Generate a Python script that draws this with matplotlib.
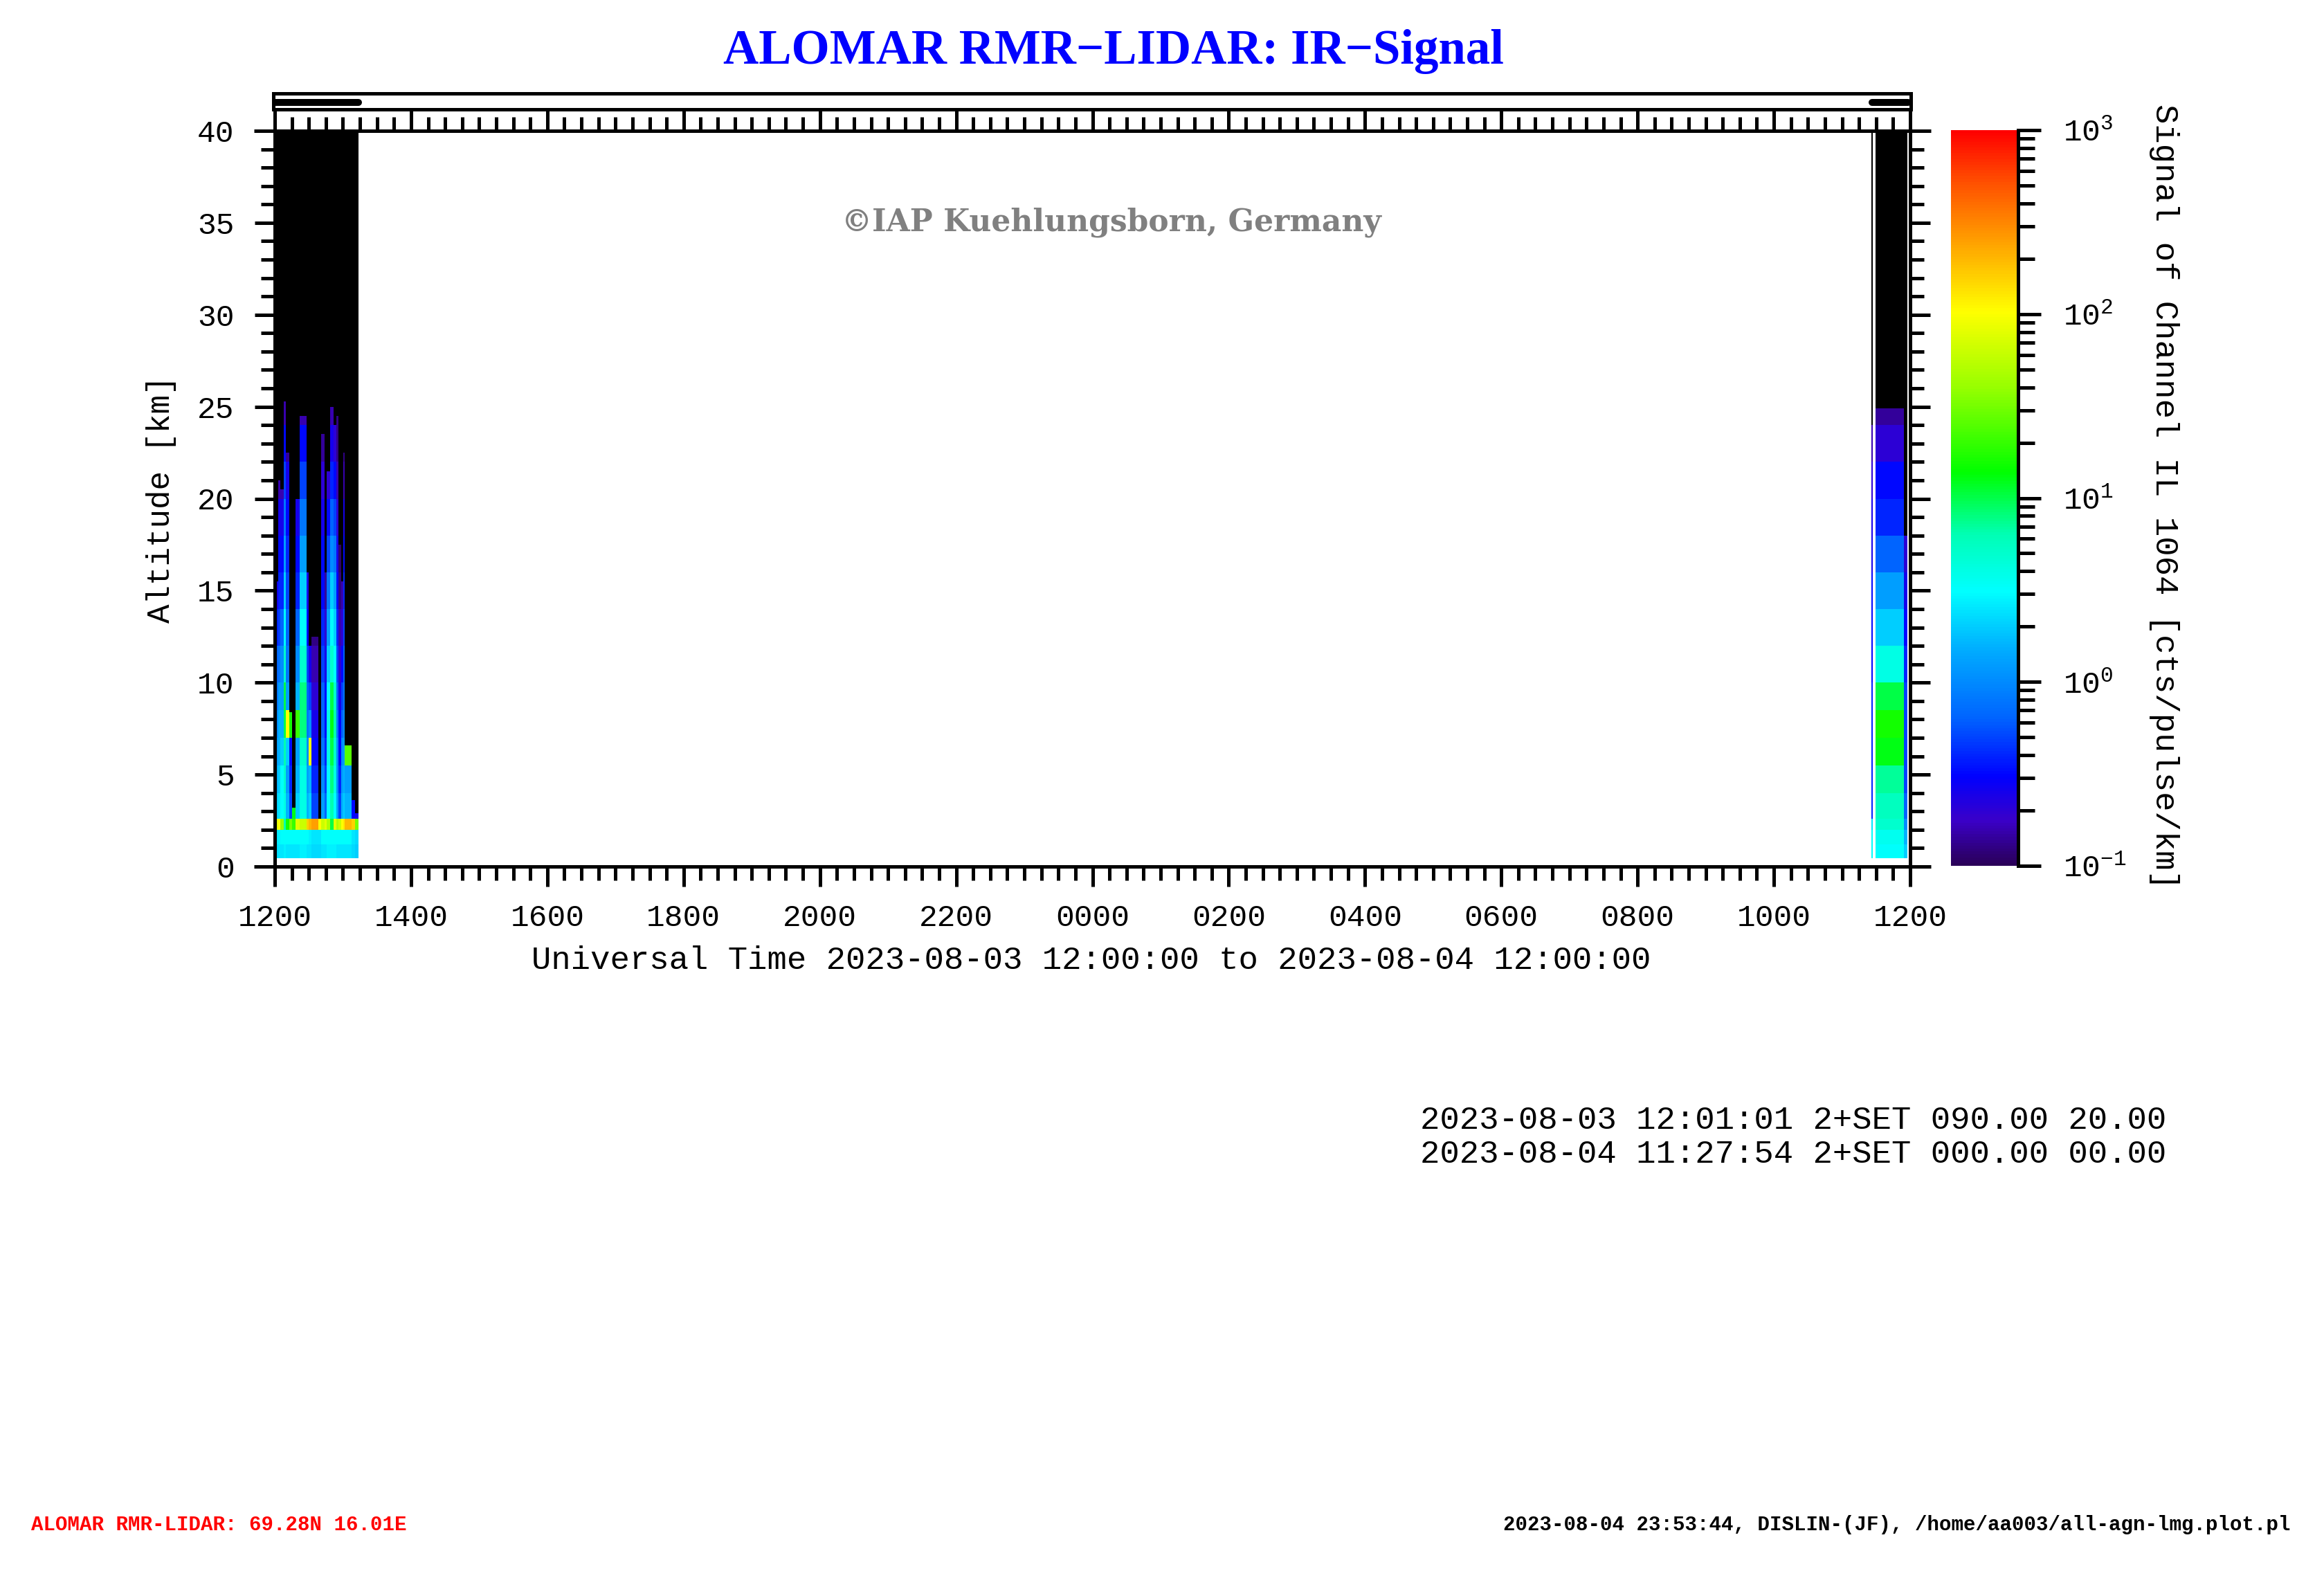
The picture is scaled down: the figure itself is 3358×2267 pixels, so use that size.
import matplotlib
matplotlib.use('Agg')
import matplotlib.pyplot as plt
import numpy as np
from matplotlib.colors import LinearSegmentedColormap, LogNorm
from matplotlib.cm import ScalarMappable

W, H = 3358, 2267
MONO = 'Liberation Mono'
plt.rcParams['mathtext.default'] = 'regular'

# ---- data ----
# altitude band lower edges [km]; a profile is cut at its own top altitude
alt_edges = [0.45, 1.2, 2.0, 2.6, 4.0, 5.5, 7.0, 8.5, 10.0, 12.0, 14.0, 16.0, 18.0, 20.0, 22.0, 24.0]

# profile columns, minutes after 2023-08-03 12:00 UT
col_start = [0.8, 3.0, 5.0, 8.0, 10.0, 12.5, 15.5, 18.0, 22.0, 28.0, 30.0, 32.3, 38.4,
             41.0, 44.0, 45.7, 48.5, 51.6, 54.2, 56.2, 58.3, 60.3, 61.7, 67.4, 70.5,
             1406.0, 1409.5, 1434.4]
col_end = [3.0, 5.0, 8.0, 10.0, 12.5, 15.5, 18.0, 22.0, 28.0, 30.0, 32.3, 38.4, 41.0,
           44.0, 45.7, 48.5, 51.6, 54.2, 56.2, 58.3, 60.3, 61.7, 67.4, 70.5, 73.5,
           1406.8, 1434.4, 1437.5]
# altitude [km] above which the signal drops below 0.1 cts/pulse/km
col_top = [15.5, 21.0, 20.5, 25.3, 22.5, 8.4, 3.2, 20.0, 24.5, 16.0, 12.0, 12.5, 2.6,
           23.5, 16.0, 21.5, 25.0, 24.0, 24.5, 17.5, 15.5, 22.5, 6.6, 3.6, 2.9,
           24.0, 24.9, 18.0]
# log10 of signal in each altitude band, bottom up
col_log = [
    [0.35, 0.4, 1.9, 0.3, 0.2, 0.1, 0.0, -0.1, -0.2, -0.4, -0.6],
    [0.4, 0.45, 2.0, 0.4, 0.3, 0.2, 0.2, 0.1, -0.1, -0.3, -0.4, -0.5, -0.6, -0.8],
    [0.4, 0.5, 1.6, 0.5, 0.5, 0.3, 0.2, 0.1, 0.0, -0.2, -0.4, -0.5, -0.6, -0.8],
    [0.45, 0.5, 0.8, 0.6, 0.7, 0.8, 1.0, 1.0, 0.7, 0.5, 0.3, 0.1, -0.1, -0.3, -0.5, -0.8],
    [0.4, 0.5, 1.2, 0.2, 0.1, 0.3, 2.0, 0.1, -0.1, -0.2, -0.3, -0.4, -0.5, -0.6, -0.85],
    [0.4, 0.5, 1.5, -0.3, -0.4, -0.5, 1.2],
    [0.4, 0.5, 1.3, 1.1],
    [0.4, 0.5, 1.9, 0.3, 0.2, 0.1, 1.3, 0.2, 0.0, -0.2, -0.4, -0.5, -0.6],
    [0.45, 0.5, 1.8, 0.6, 0.6, 0.7, 0.9, 0.9, 0.7, 0.5, 0.3, 0.1, -0.1, -0.3, -0.5, -0.8],
    [0.4, 0.5, 2.2, 0.2, 0.1, 0.0, -0.1, -0.2, -0.3, -0.5, -0.6],
    [0.4, 0.45, 2.3, 0.3, 0.2, 2.0, 0.0, -0.3, -0.6],
    [0.35, 0.4, 2.4, -0.3, -0.4, -0.5, -0.6, -0.7, -0.8, -0.9],
    [0.35, 0.4, 2.0],
    [0.4, 0.5, 1.8, 0.1, 0.0, -0.1, -0.2, -0.2, -0.3, -0.4, -0.5, -0.5, -0.6, -0.7, -0.85],
    [0.4, 0.5, 1.9, -0.2, -0.3, -0.4, -0.5, -0.5, -0.6, -0.7, -0.85],
    [0.45, 0.5, 1.7, 0.5, 0.5, 0.6, 0.6, 0.5, 0.3, 0.1, -0.1, -0.3, -0.5, -0.7],
    [0.45, 0.5, 1.0, 0.8, 0.9, 1.0, 1.1, 1.0, 0.7, 0.5, 0.3, 0.0, -0.2, -0.4, -0.6, -0.8],
    [0.45, 0.5, 1.9, 0.5, 0.6, 0.7, 0.8, 0.7, 0.5, 0.3, 0.1, -0.1, -0.3, -0.5, -0.7],
    [0.4, 0.5, 1.7, 0.1, 0.0, 0.0, -0.1, -0.2, -0.3, -0.4, -0.5, -0.6, -0.7, -0.8, -0.9],
    [0.4, 0.5, 1.8, -0.3, -0.4, -0.5, -0.5, -0.6, -0.7, -0.8, -0.9, -0.95],
    [0.4, 0.5, 2.0, 0.2, 0.1, 0.0, -0.2, -0.3, -0.5, -0.7, -0.8],
    [0.4, 0.5, 2.1, 0.3, 0.2, 0.1, 0.0, -0.1, -0.2, -0.3, -0.4, -0.5, -0.6, -0.8, -0.9],
    [0.4, 0.5, 2.3, 0.2, 0.1, 1.4],
    [0.35, 0.4, 2.2, -0.5],
    [0.3, 0.35, 1.5, -0.6],
    [0.5, 0.5, 0.4, -0.4, -0.4, -0.4, -0.4, -0.4, -0.5, -0.5, -0.5, -0.6, -0.6, -0.7, -0.8],
    [0.5, 0.55, 0.7, 0.75, 0.85, 1.1, 1.2, 1.0, 0.6, 0.3, 0.1, -0.2, -0.4, -0.5, -0.7, -0.85],
    [0.3, 0.2, 0.0, -0.2, -0.3, -0.3, -0.3, -0.3, -0.4, -0.5, -0.6, -0.7],
]

# measurement periods shown in the strip above the plot [min]
bar_start = [1.0, 1406.0]
bar_end = [75.0, 1437.5]

xtick_labels = ['1200', '1400', '1600', '1800', '2000', '2200', '0000',
                '0200', '0400', '0600', '0800', '1000', '1200']
cbar_labels = [r'$10^{-1}$', r'$10^{0}$', r'$10^{1}$', r'$10^{2}$', r'$10^{3}$']
log_lines = ['2023-08-03 12:01:01 2+SET 090.00 20.00',
             '2023-08-04 11:27:54 2+SET 000.00 00.00']

# DISLIN-like rainbow colour table
cmap = LinearSegmentedColormap.from_list('rain', [
    (0.00, '#2a0058'), (0.06, '#3a00c8'), (0.12, '#0000ff'), (0.20, '#0064ff'),
    (0.29, '#00aaff'), (0.373, '#00ffff'), (0.45, '#00ffb4'), (0.535, '#00ff00'),
    (0.65, '#96ff00'), (0.754, '#ffff00'), (0.85, '#ffa000'), (0.93, '#ff5000'),
    (1.00, '#ff0000')])
cmap.set_under('black')
norm = LogNorm(vmin=0.1, vmax=1000)

fig = plt.figure(figsize=(W / 100, H / 100), dpi=100)

# ---- main panel ----
ax = fig.add_axes([397 / W, 1 - 1252 / H, (2760 - 397) / W, (1252 - 189) / H])
for t0, t1, top, vals in zip(col_start, col_end, col_top, col_log):
    n = len(vals)
    yed = alt_edges[:n] + [top, 40.0]
    z = 10.0 ** np.array([vals + [-9.0]]).T
    ax.pcolormesh([t0 / 60, t1 / 60], yed, z, cmap=cmap, norm=norm)

ax.set_xlim(0, 24)
ax.set_ylim(0, 40)
ax.set_xticks(np.arange(0, 25, 2))
ax.set_xticks(np.arange(0, 24.01, 0.25), minor=True)
ax.set_xticklabels(xtick_labels, family=MONO, fontsize=32)
ax.set_yticks(np.arange(0, 41, 5))
ax.set_yticks(np.arange(0, 41, 1), minor=True)
ax.set_yticklabels([str(v) for v in range(0, 41, 5)], family=MONO, fontsize=32)
ax.tick_params(which='both', direction='out', top=True, right=True, width=3.6,
               labeltop=False, labelright=False)
ax.tick_params(which='major', length=21)
ax.tick_params(which='minor', length=14.5)
ax.tick_params(axis='x', pad=18)
ax.tick_params(axis='y', pad=21)
for s in ax.spines.values():
    s.set_linewidth(3.6)
ext = 30 / (2760 - 397)
for yy in (0, 1):
    ax.plot([-ext, 1 + ext], [yy, yy], transform=ax.transAxes, color='black',
            lw=3.6, clip_on=False, solid_capstyle='butt')

# ---- strip with measurement periods ----
axs = fig.add_axes([395 / W, 1 - 158 / H, (2761 - 395) / W, 23 / H])
axs.set_xlim(0, 24)
axs.set_ylim(0, 1)
for a, b in zip(bar_start, bar_end):
    axs.plot([a / 60, b / 60], [0.43, 0.43], color='black', lw=7.2,
             solid_capstyle='round')
axs.set_xticks([])
axs.set_yticks([])
for s in axs.spines.values():
    s.set_linewidth(3.6)

# ---- colour bar ----
cax = fig.add_axes([2819 / W, 1 - 1251 / H, (2916 - 2819) / W, (1251 - 188) / H])
cb = fig.colorbar(ScalarMappable(norm=norm, cmap=cmap), cax=cax)
cb.outline.set_visible(False)
cax.axvline(1, color='black', lw=3.6, clip_on=False)
cb.set_ticks([0.1, 1, 10, 100, 1000])
cb.set_ticklabels(cbar_labels)
cax.tick_params(which='both', direction='out', width=3.6, labelsize=32, pad=23)
cax.tick_params(which='major', length=24)
cax.tick_params(which='minor', length=17)
for lab in cax.get_yticklabels():
    lab.set_family(MONO)

# ---- texts ----
fig.text(0.4793, 1 - 92 / H, 'ALOMAR RMR\u2212LIDAR: IR\u2212Signal', color='blue',
         fontsize=51, weight='bold', family='Liberation Serif', ha='center',
         va='baseline')
fig.text(0.4783, 1 - 321 / H, '\u00a9IAP Kuehlungsborn, Germany', color='#808080',
         fontsize=31.7, weight='bold', family='DejaVu Serif', ha='center', va='center')
fig.text(1577 / W, 1 - 1388 / H,
         'Universal Time 2023-08-03 12:00:00 to 2023-08-04 12:00:00',
         fontsize=34, family=MONO, ha='center', va='center')
fig.text(233 / W, 1 - 721 / H, 'Altitude [km]', rotation=90, fontsize=33,
         family=MONO, ha='center', va='center')
fig.text(3127 / W, 1 - 717 / H, 'Signal of Channel IL 1064 [cts/pulse/km]',
         rotation=270, fontsize=34, family=MONO, ha='center', va='center')
for i, line in enumerate(log_lines):
    fig.text(2052 / W, 1 - (1619 + 49 * i) / H, line, fontsize=34, family=MONO,
             ha='left', va='center')
fig.text(45 / W, 1 - 2203 / H, 'ALOMAR RMR-LIDAR: 69.28N 16.01E', color='red',
         fontsize=21, weight='bold', family=MONO, ha='left', va='center')
fig.text(3310 / W, 1 - 2203 / H,
         '2023-08-04 23:53:44, DISLIN-(JF), /home/aa003/all-agn-lmg.plot.pl',
         fontsize=21, weight='bold', family=MONO, ha='right', va='center')

fig.savefig('out.png', dpi=100)
